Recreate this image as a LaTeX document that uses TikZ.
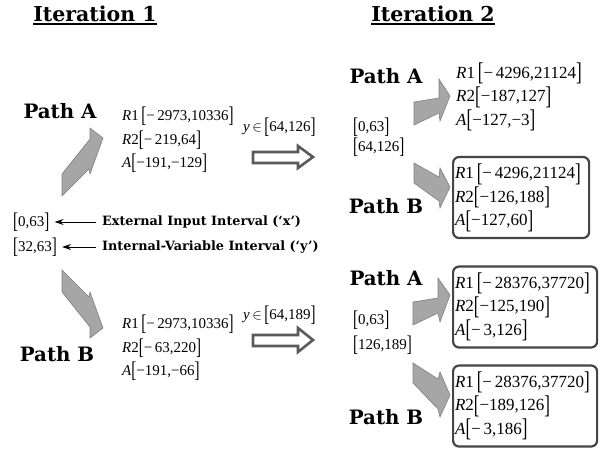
\documentclass[tikz,border=0pt]{standalone}
\usepackage{fontspec}
\setmainfont{Liberation Serif}
\newfontfamily\headfont{DejaVu Serif}
\usetikzlibrary{arrows.meta}

\definecolor{arrowgray}{HTML}{A6A6A6}
\definecolor{arrowedge}{HTML}{808080}
\definecolor{boxgray}{HTML}{454545}
\definecolor{hollowgray}{HTML}{5A5A5A}

% tall brackets of the intervals
\newcommand{\brL}{\raisebox{-0.14em}{\scalebox{1}[1.5]{[}}}
\newcommand{\brR}{\raisebox{-0.14em}{\scalebox{1}[1.5]{]}}}
\newcommand{\ivl}[2]{\brL#1,#2\brR}

\begin{document}
\begin{tikzpicture}[x=1pt, y=-1pt,
    title/.style={font=\headfont\bfseries\fontsize{20.5}{22}\selectfont, inner sep=0pt, anchor=base},
    pathlbl/.style={font=\headfont\bfseries\fontsize{19.8}{22}\selectfont, inner sep=0pt, anchor=base},
    notelbl/.style={font=\headfont\bfseries\fontsize{12.8}{14}\selectfont, inner sep=0pt, anchor=west},
    ivlbl/.style={font=\fontsize{15}{17}\selectfont, inner xsep=2pt, inner ysep=0pt, anchor=west},
    data/.style={font=\fontsize{15}{23.5}\selectfont, align=left, anchor=west, inner sep=2pt},
    datatwo/.style={data, font=\fontsize{17}{23.5}\selectfont},
    databox/.style={datatwo, draw=boxgray, line width=2.2pt, rounded corners=6pt, minimum height=81pt},
    blockarrow/.style={fill=arrowgray, draw=arrowedge, line width=0.6pt},
    hollow/.style={fill=white, draw=hollowgray, line width=2.6pt},
    inarrow/.style={-{Stealth[length=9pt,width=6pt]}, line width=1pt}]
    \useasboundingbox (0,0) rectangle (609,450);

    % Titles
    \node[title] (itone) at (95,21) {Iteration 1};
    \node[title] (ittwo) at (433,21) {Iteration 2};
    \draw[line width=1.6pt] ([yshift=-3pt]itone.base west) -- ([yshift=-3pt]itone.base east);
    \draw[line width=1.6pt] ([yshift=-3pt]ittwo.base west) -- ([yshift=-3pt]ittwo.base east);

    % Iteration 1
    \node[pathlbl] (pAone) at (60,118) {Path A};
    \node[pathlbl] (pBone) at (57,361) {Path B};
    \node[ivlbl] (xone) at (11,222) {\ivl{0}{63}};
    \node[ivlbl] (yone) at (11,247) {\ivl{32}{63}};
    \node[notelbl] (extlbl) at (102,222) {External Input Interval (‘x’)};
    \node[notelbl] (intlbl) at (102,247) {Internal-Variable Interval (‘y’)};
    \draw[inarrow, shorten <=6pt, shorten >=3pt] (extlbl.west) -- (xone.east);
    \draw[inarrow, shorten <=6pt, shorten >=3pt] (intlbl.west) -- (yone.east);

    \filldraw[blockarrow] (62,196) -- (89,169) -- (90,174) -- (103,138) -- (90,128) -- (90,139) -- (62,174) -- cycle;
    \filldraw[blockarrow] (62,270) -- (89,297) -- (90,292) -- (103,328) -- (90,338) -- (90,327) -- (62,292) -- cycle;

    \node[data] (dAone) at (120,140) {\textit{R}1\,\brL−\,2973,10336\brR\\ \textit{R}2\brL−\,219,64\brR\\ \textit{A}\brL−191,−129\brR};
    \node[data] (dBone) at (120,348) {\textit{R}1\,\brL−\,2973,10336\brR\\ \textit{R}2\brL−\,63,220\brR\\ \textit{A}\brL−191,−66\brR};

    % Transfer to iteration 2
    \node[ivlbl] (yAtwo) at (241,127) {\textit{y}\,$\in$\,\ivl{64}{126}};
    \node[ivlbl] (yBtwo) at (241,315) {\textit{y}\,$\in$\,\ivl{64}{189}};
    \filldraw[hollow] (253,152) -- (298,152) -- (298,146) -- (313,157) -- (298,168) -- (298,163) -- (253,163) -- cycle;
    \filldraw[hollow] (253,335) -- (298,335) -- (298,328) -- (313,340) -- (298,352) -- (298,346) -- (253,346) -- cycle;

    % Iteration 2, first pair
    \node[pathlbl] (pAtwo) at (386,83) {Path A};
    \node[pathlbl] (pBtwo) at (386,213) {Path B};
    \node[ivlbl] (xtwo) at (351,127) {\ivl{0}{63}};
    \node[ivlbl] (ytwo) at (351,147.5) {\ivl{64}{126}};
    \filldraw[blockarrow] (414,125) -- (414,102) -- (439,98) -- (439,79) -- (450,96) -- (440,121) -- (439,113) -- cycle;
    \filldraw[blockarrow] (414,163) -- (439,177) -- (440,168) -- (450,187) -- (440,208) -- (439,201) -- (414,183) -- cycle;
    \node[datatwo] (dAtwo) at (454,97) {\textit{R}1\,\brL−\,4296,21124\brR\\ \textit{R}2\brL−187,127\brR\\ \textit{A}\brL−127,−3\brR};
    \node[databox, text width=132pt] (dBtwo) at (452,197.5) {\textit{R}1\,\brL−\,4296,21124\brR\\ \textit{R}2\brL−126,188\brR\\ \textit{A}\brL−127,60\brR};

    % Iteration 2, second pair
    \node[pathlbl] (pAthree) at (386,285) {Path A};
    \node[pathlbl] (pBthree) at (386,424) {Path B};
    \node[ivlbl] (xthree) at (351,320) {\ivl{0}{63}};
    \node[ivlbl] (ythree) at (351,345) {\ivl{126}{189}};
    \filldraw[blockarrow] (413,325) -- (413,302) -- (438,298) -- (438,278) -- (450,295) -- (440,322) -- (438,313) -- cycle;
    \filldraw[blockarrow] (413,363) -- (438,379) -- (440,372) -- (450,395) -- (440,417) -- (438,409) -- (413,383) -- cycle;
    \node[databox, text width=140pt] (dAthree) at (452,307) {\textit{R}1\,\brL−\,28376,37720\brR\\ \textit{R}2\brL−125,190\brR\\ \textit{A}\brL−\,3,126\brR};
    \node[databox, text width=140pt] (dBthree) at (452,406) {\textit{R}1\,\brL−\,28376,37720\brR\\ \textit{R}2\brL−189,126\brR\\ \textit{A}\brL−\,3,186\brR};
\end{tikzpicture}
\end{document}
